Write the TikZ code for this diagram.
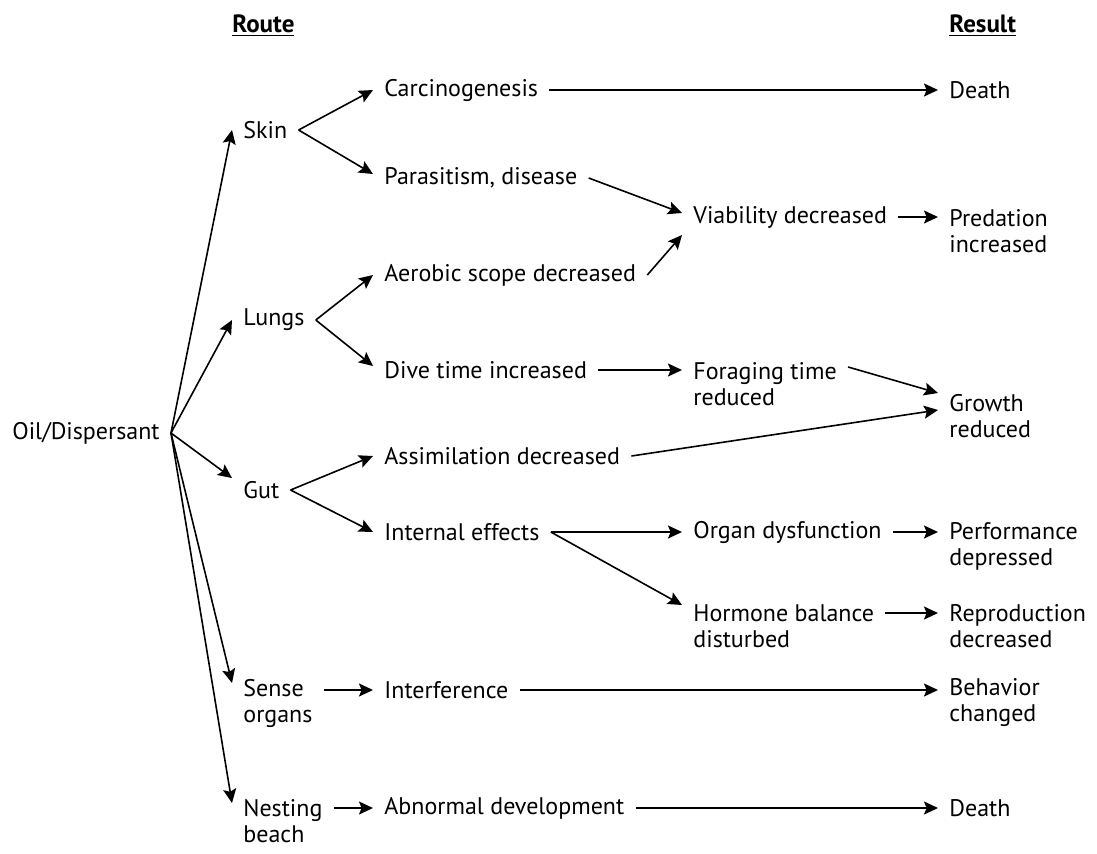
\documentclass[tikz,border=0pt]{standalone}
\usepackage{fontspec}
\setmainfont{PT Sans}
\usepackage{tikz}
\usetikzlibrary{arrows.meta}
\tikzstyle{txt} = [anchor=west, align=left, inner xsep=5.5pt, inner ysep=1pt, font=\fontsize{12}{13}\selectfont]
\tikzstyle{head} = [txt, font=\fontsize{12.5}{13}\selectfont\bfseries]
\tikzstyle{arr} = [-{Stealth[length=7pt,width=6.5pt,inset=1.3pt]}, line width=0.8pt]

\begin{document}
\begin{tikzpicture}[x=0.5pt, y=-0.5pt]
	\useasboundingbox (0,0) rectangle (1097,853);
	% headings
	\node[head] (route) at (221,26) {\underline{Route}};
	\node[head] (result) at (938,26) {\underline{Result}};
	% source and routes
	\node[txt] (oil) at (1,433) {Oil/Dispersant};
	\node[txt] (skin) at (232,130) {Skin};
	\node[txt] (lungs) at (232,320) {Lungs};
	\node[txt] (gut) at (232,490) {Gut};
	\node[txt] (sense) at (232,703) {Sense\\organs};
	\node[txt] (nest) at (232,821) {Nesting\\beach};
	% first effects
	\node[txt] (carc) at (373,90) {Carcinogenesis};
	\node[txt] (para) at (373,178) {Parasitism, disease};
	\node[txt] (aero) at (373,275) {Aerobic scope decreased};
	\node[txt] (dive) at (373,370) {Dive time increased};
	\node[txt] (assim) at (373,456) {Assimilation decreased};
	\node[txt] (intern) at (373,532) {Internal effects};
	\node[txt] (inter) at (373,690) {Interference};
	\node[txt] (abn) at (373,808) {Abnormal development};
	% second effects
	\node[txt] (viab) at (682,217) {Viability decreased};
	\node[txt] (forag) at (682,384) {Foraging time\\reduced};
	\node[txt] (organ) at (682,532) {Organ dysfunction};
	\node[txt] (horm) at (682,626) {Hormone balance\\disturbed};
	% results
	\node[txt] (death1) at (938,90) {Death};
	\node[txt] (pred) at (938,231) {Predation\\increased};
	\node[txt] (growth) at (938,416) {Growth\\reduced};
	\node[txt] (perf) at (938,546) {Performance\\depressed};
	\node[txt] (repr) at (938,626) {Reproduction\\decreased};
	\node[txt] (behav) at (938,703) {Behavior\\changed};
	\node[txt] (death2) at (938,808) {Death};

	% routes
	\draw[arr] (oil.east) -- (skin.west);
	\draw[arr] (oil.east) -- (lungs.west);
	\draw[arr] (oil.east) -- ([yshift=6pt]gut.west);
	\draw[arr] (oil.east) -- ([yshift=10pt]sense.west);
	\draw[arr] (oil.east) -- ([yshift=9pt]nest.west);

	% skin
	\draw[arr] (skin.east) -- (carc.west);
	\draw[arr] (skin.east) -- ([yshift=2pt]para.west);
	\draw[arr] (carc.east) -- (death1.west);
	\draw[arr] (para.east) -- ([yshift=2pt]viab.west);
	\draw[arr] (viab.east) -- (viab.east -| pred.west);

	% lungs
	\draw[arr] (lungs.east) -- (aero.west);
	\draw[arr] (lungs.east) -- ([yshift=2pt]dive.west);
	\draw[arr] (aero.east) -- ([yshift=-9pt]viab.west);
	\draw[arr] (dive.east) -- (dive.east -| forag.west);
	\draw[arr] ([yshift=8.5pt]forag.east) -- ([yshift=11.5pt]growth.west);

	% gut
	\draw[arr] (gut.east) -- (assim.west);
	\draw[arr] (gut.east) -- (intern.west);
	\draw[arr] (assim.east) -- ([yshift=3pt]growth.west);
	\draw[arr] (intern.east) -- (organ.west);
	\draw[arr] (intern.east) -- ([yshift=10.5pt]horm.west);
	\draw[arr] (organ.east) -- (organ.east -| perf.west);
	\draw[arr] ([yshift=6.5pt]horm.east) -- ([yshift=6.5pt]repr.west);

	% sense organs and nesting beach
	\draw[arr] (inter.west -| sense.east) -- (inter.west);
	\draw[arr] (inter.east) -- (inter.east -| behav.west);
	\draw[arr] (abn.west -| nest.east) -- (abn.west);
	\draw[arr] (abn.east) -- (death2.west);
\end{tikzpicture}
\end{document}
